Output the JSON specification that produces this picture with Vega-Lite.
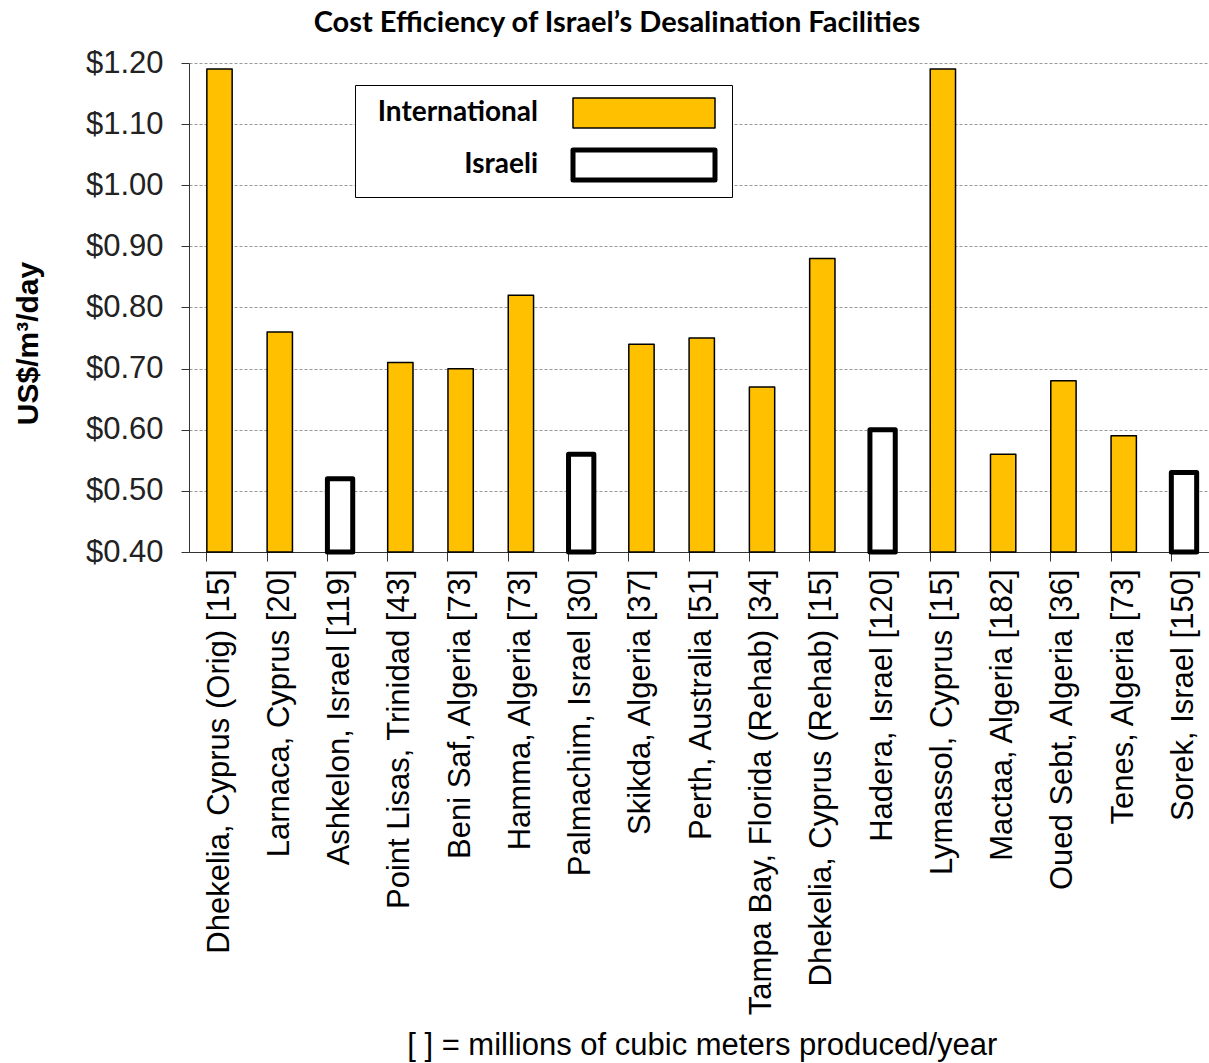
{
  "$schema": "https://vega.github.io/schema/vega-lite/v6.json",
  "autosize": "none",
  "width": 1020,
  "height": 489,
  "padding": {"left": 189, "top": 63, "right": 0, "bottom": 511},
  "background": "white",
  "title": {
    "text": "Cost Efficiency of Israel’s Desalination Facilities",
    "font": "Lato",
    "fontSize": 29,
    "fontWeight": "bold",
    "color": "black",
    "anchor": "middle",
    "dx": -82,
    "offset": -14,
    "baseline": "alphabetic"
  },
  "data": {
    "values": [
      {"facility": "Dhekelia, Cyprus (Orig) [15]", "cost": 1.19, "type": "International"},
      {"facility": "Larnaca, Cyprus [20]", "cost": 0.76, "type": "International"},
      {"facility": "Ashkelon, Israel [119]", "cost": 0.52, "type": "Israeli"},
      {"facility": "Point Lisas, Trinidad [43]", "cost": 0.71, "type": "International"},
      {"facility": "Beni Saf, Algeria [73]", "cost": 0.70, "type": "International"},
      {"facility": "Hamma, Algeria [73]", "cost": 0.82, "type": "International"},
      {"facility": "Palmachim, Israel [30]", "cost": 0.56, "type": "Israeli"},
      {"facility": "Skikda, Algeria [37]", "cost": 0.74, "type": "International"},
      {"facility": "Perth, Australia [51]", "cost": 0.75, "type": "International"},
      {"facility": "Tampa Bay, Florida (Rehab) [34]", "cost": 0.67, "type": "International"},
      {"facility": "Dhekelia, Cyprus (Rehab) [15]", "cost": 0.88, "type": "International"},
      {"facility": "Hadera, Israel [120]", "cost": 0.60, "type": "Israeli"},
      {"facility": "Lymassol, Cyprus [15]", "cost": 1.19, "type": "International"},
      {"facility": "Mactaa, Algeria [182]", "cost": 0.56, "type": "International"},
      {"facility": "Oued Sebt, Algeria [36]", "cost": 0.68, "type": "International"},
      {"facility": "Tenes, Algeria [73]", "cost": 0.59, "type": "International"},
      {"facility": "Sorek, Israel [150]", "cost": 0.53, "type": "Israeli"}
    ]
  },
  "mark": {"type": "bar", "strokeJoin": "round"},
  "encoding": {
    "x": {
      "field": "facility",
      "type": "nominal",
      "sort": null,
      "scale": {"range": [0, 1025.5], "paddingInner": 0.58, "paddingOuter": 0.296},
      "axis": {
        "title": "[ ] = millions of cubic meters produced/year",
        "titleFont": "Liberation Sans",
        "titleFontSize": 31,
        "titleFontWeight": "normal",
        "titleColor": "black",
        "titleY": 493,
        "titleBaseline": "middle",
        "labelAngle": -90,
        "labelAlign": "right",
        "labelBaseline": "middle",
        "labelFont": "Liberation Sans",
        "labelFontSize": 31,
        "labelColor": "black",
        "labelPadding": 8,
        "labelLimit": 0,
        "bandPosition": 0,
        "tickSize": 9,
        "tickColor": "#333",
        "domainColor": "#333",
        "grid": false
      }
    },
    "y": {
      "field": "cost",
      "type": "quantitative",
      "scale": {"domain": [0.4, 1.2], "zero": false, "nice": false},
      "axis": {
        "title": "US$/m³/day",
        "titleFont": "Liberation Sans",
        "titleFontSize": 30,
        "titleFontWeight": "bold",
        "titleColor": "black",
        "titleAngle": -90,
        "titleX": -161,
        "titleY": 280,
        "titleAlign": "center",
        "titleBaseline": "middle",
        "values": [0.4, 0.5, 0.6, 0.7, 0.8, 0.9, 1.0, 1.1, 1.2],
        "format": "$.2f",
        "labelFont": "Liberation Sans",
        "labelFontSize": 31,
        "labelColor": "#222",
        "labelPadding": 18,
        "tickSize": 8,
        "tickColor": "#333",
        "domainColor": "#333",
        "grid": true,
        "gridColor": "#999",
        "gridDash": [3, 2],
        "gridWidth": 1
      }
    },
    "y2": {"datum": 0.4},
    "fill": {
      "field": "type",
      "type": "nominal",
      "scale": {"domain": ["International", "Israeli"], "range": ["#FFC000", "#FFFFFF"]},
      "legend": {
        "title": null,
        "orient": "none",
        "legendX": 166,
        "legendY": 22,
        "direction": "vertical",
        "strokeColor": "black",
        "fillColor": "white",
        "padding": 14,
        "rowPadding": 18,
        "labelFont": "Lato",
        "labelFontSize": 28,
        "labelFontWeight": "bold",
        "labelColor": "black",
        "labelAlign": "right",
        "labelOffset": -120,
        "labelLimit": 0,
        "symbolType": "M-1,-0.21H1V0.21H-1Z",
        "symbolSize": 20164,
        "symbolOffset": 261,
        "symbolStrokeColor": "black",
        "symbolFillColor": "white",
        "encode": {
          "symbols": {
            "update": {
              "strokeWidth": {"signal": "datum.value === 'Israeli' ? 5 : 1.5"},
              "stroke": {"value": "black"},
              "strokeJoin": {"value": "round"}
            }
          }
        }
      }
    },
    "stroke": {"value": "black"},
    "strokeWidth": {
      "condition": {"test": "datum.type === 'Israeli'", "value": 5},
      "value": 1.5
    }
  },
  "config": {
    "view": {"stroke": null}
  }
}
